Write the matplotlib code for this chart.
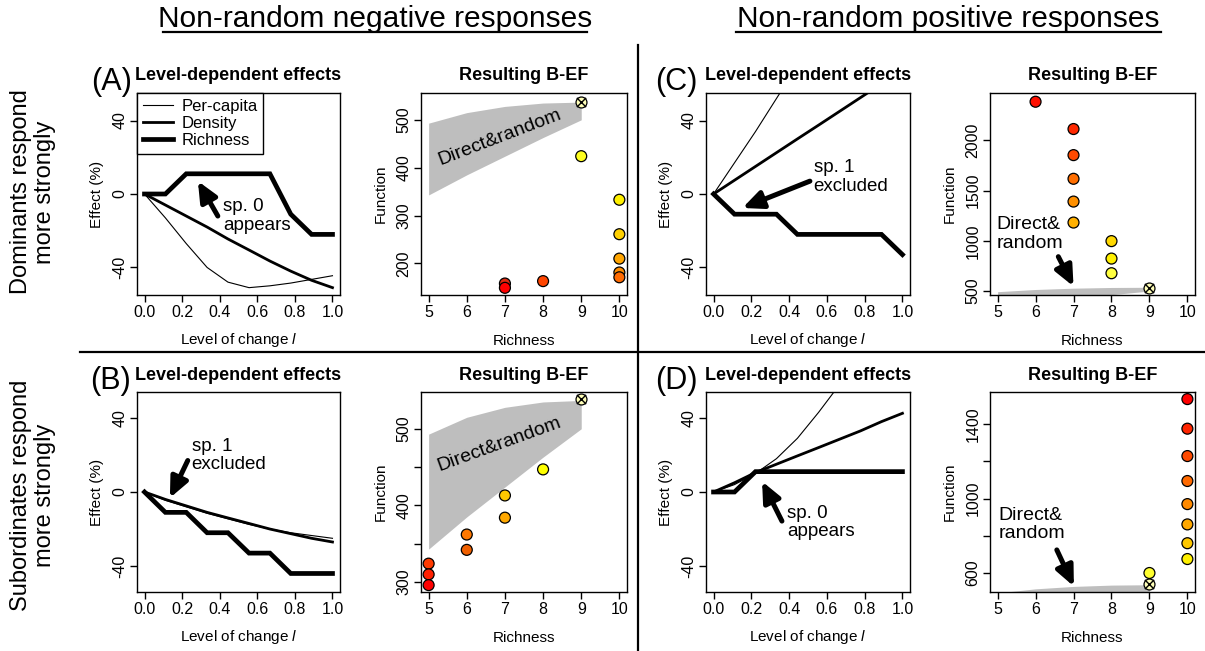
import matplotlib
matplotlib.use("Agg")
import matplotlib.pyplot as plt
from matplotlib.lines import Line2D

plt.rcParams['font.family'] = ['Liberation Sans', 'DejaVu Sans']
plt.rcParams['mathtext.fontset'] = 'custom'
plt.rcParams['mathtext.rm'] = 'Liberation Sans'
plt.rcParams['mathtext.it'] = 'Liberation Sans:italic'

# level of change (x of the line panels)
level = [0.0, 0.111, 0.222, 0.333, 0.444, 0.556, 0.667, 0.778, 0.889, 1.0]

# (A) dominants, negative
A_percap = [0, -13, -27, -40, -48, -51, -50, -48.5, -46.5, -44.5]
A_density = [0, -6, -12, -18, -24.5, -30.5, -36.5, -42, -47, -51]
A_richness = [0, 0, 11, 11, 11, 11, 11, -11, -22, -22]
# (B) subordinates, negative
B_percap = [0, -4.5, -8, -11.5, -14.5, -17.5, -20, -22, -23.5, -25]
B_density = [0, -4, -7.5, -11, -14, -17, -20, -22.5, -25, -27]
B_richness = [0, -11, -11, -22, -22, -33, -33, -44, -44, -44]
# (C) dominants, positive
C_percap = [0, 17, 34, 52, 70, 88, 106, 124, 142, 160]
C_density = [0, 7.5, 15, 22.5, 30, 37.5, 45, 52.5, 60, 67.5]
C_richness = [0, -11, -11, -11, -22, -22, -22, -22, -22, -33]
# (D) subordinates, positive
D_percap = [0, 4, 10, 18, 29, 43, 58, 75, 93, 112]
D_density = [0, 5, 10.5, 15, 19.5, 24, 28.5, 33, 38, 42.5]
D_richness = [0, 0, 11, 11, 11, 11, 11, 11, 11, 11]

# direct & random envelope (shared)
poly_rich = [5, 6, 7, 8, 9]
poly_upper = [493, 515, 528, 535, 537]
poly_lower = [343, 385, 424, 463, 500]

# resulting B-EF points
A_rich = [7, 7, 8, 9, 10, 10, 10, 10, 10]
A_func = [158, 149, 163, 424, 333, 261, 210, 181, 171]
A_cols = ['#E02A10', '#FF0000', '#FF4500', '#FFFF20', '#FFF000', '#FFD000',
          '#FFA500', '#FF8C00', '#FF6A00']
A_ref = (9, 538)

B_rich = [5, 5, 5, 6, 6, 7, 7, 8]
B_func = [324, 310, 296, 362, 342, 413, 384, 447]
B_cols = ['#FF3A00', '#FF2000', '#FF0000', '#FF7800', '#F06000', '#FFC800',
          '#FFA800', '#FFFF00']
B_ref = (9, 539)

C_rich = [6, 7, 7, 7, 7, 7, 8, 8, 8]
C_func = [2386, 2114, 1854, 1618, 1391, 1182, 997, 823, 677]
C_cols = ['#FF1000', '#FF2800', '#FF4A00', '#FF6E00', '#FF9000', '#FFB000',
          '#FFD800', '#FFF000', '#FFFF40']
C_ref = (9, 533)

D_rich = [10, 10, 10, 10, 10, 10, 10, 10, 9]
D_func = [1534, 1375, 1228, 1094, 970, 861, 760, 675, 600]
D_cols = ['#FF0000', '#FF2500', '#FF4A00', '#FF6A00', '#FF8A00', '#FFA800',
          '#FFC800', '#FFF000', '#FFFF30']
D_ref = (9, 540)

W, H = 1205, 651
fig = plt.figure(figsize=(W / 100, H / 100), dpi=100)


def make_ax(x0, x1, y0, y1):
    ax = fig.add_axes([x0 / W, 1 - y1 / H, (x1 - x0) / W, (y1 - y0) / H])
    for s in ax.spines.values():
        s.set_linewidth(1.0)
    ax.tick_params(direction='out', length=5, width=1, labelsize=11.5, pad=2)
    return ax


def line_panel(ax, pc, de, ri, ylim, title, letter, lx, ly):
    ax.plot(level, pc, color='black', lw=0.8, label='Per-capita')
    ax.plot(level, de, color='black', lw=2.0, label='Density')
    ax.plot(level, ri, color='black', lw=3.4, label='Richness', solid_joinstyle='miter')
    ax.set_xlim(-0.04, 1.04)
    ax.set_ylim(*ylim)
    ax.set_xticks([0.0, 0.2, 0.4, 0.6, 0.8, 1.0])
    ax.set_xticklabels(['0.0', '0.2', '0.4', '0.6', '0.8', '1.0'])
    ax.set_yticks([-40, 0, 40])
    ax.set_yticklabels(['-40', '0', '40'], rotation=90, va='center')
    ax.set_xlabel('Level of change $l$', fontsize=11, labelpad=8)
    ax.set_ylabel('Effect (%)', fontsize=11, labelpad=6)
    ax.set_title(title, fontsize=13, fontweight='bold', pad=9)
    fig.text(lx / W, 1 - ly / H, letter, fontsize=22, ha='center', va='center')


def scatter_panel(ax, rich, func, cols, ref, ylim, yticks, ylabels):
    ax.fill_between(poly_rich, poly_lower, poly_upper, color='#BEBEBE', lw=0)
    ax.scatter(rich, func, s=62, c=cols, edgecolors='black', linewidths=0.9, zorder=3)
    ax.scatter([ref[0]], [ref[1]], s=62, c='#FFFFB8', edgecolors='black',
               linewidths=0.9, zorder=3)
    ax.scatter([ref[0]], [ref[1]], s=45, marker='x', c='black', linewidths=1.0, zorder=4)
    ax.set_xlim(4.8, 10.2)
    ax.set_ylim(*ylim)
    ax.set_xticks([5, 6, 7, 8, 9, 10])
    ax.set_yticks(yticks)
    ax.set_yticklabels(ylabels, rotation=90, va='center')
    ax.set_xlabel('Richness', fontsize=11, labelpad=10)
    ax.set_ylabel('Function', fontsize=11, labelpad=6)
    ax.set_title('Resulting B-EF', fontsize=13, fontweight='bold', pad=9)


arrow = dict(arrowstyle='-|>,head_length=0.6,head_width=0.27', lw=3.6,
             color='black', mutation_scale=20, shrinkA=0, shrinkB=0)

# ---- (A)
axA = make_ax(137, 340, 93, 295)
line_panel(axA, A_percap, A_density, A_richness, (-55, 55),
           'Level-dependent effects', '(A)', 112, 82)
leg = axA.legend(loc='upper left', borderaxespad=0, fancybox=False, framealpha=1,
                 edgecolor='black', fontsize=12, handlelength=1.8, handletextpad=0.5,
                 labelspacing=0.12, borderpad=0.35)
leg.get_frame().set_linewidth(1.0)
axA.annotate('', xy=(0.284, 7), xytext=(0.39, -12), arrowprops=arrow)
axA.text(0.42, -12, 'sp. 0\nappears', fontsize=13.5, ha='left', va='center',
         linespacing=1.1)

axA2 = make_ax(421, 627, 93, 295)
scatter_panel(axA2, A_rich, A_func, A_cols, A_ref, (134, 556),
              [200, 300, 400, 500], ['200', '300', '400', '500'])
axA2.text(6.86, 464, 'Direct&random', fontsize=14, rotation=21, ha='center', va='center')

# ---- (B)
axB = make_ax(137, 340, 392, 592)
line_panel(axB, B_percap, B_density, B_richness, (-54, 54),
           'Level-dependent effects', '(B)', 111, 381)
axB.annotate('', xy=(0.135, -3.2), xytext=(0.23, 17), arrowprops=arrow)
axB.text(0.25, 19.6, 'sp. 1\nexcluded', fontsize=13.5, ha='left', va='center',
         linespacing=1.1)

axB2 = make_ax(421, 627, 392, 592)
scatter_panel(axB2, B_rich, B_func, B_cols, B_ref, (287, 548),
              [300, 350, 400, 450, 500], ['300', '', '400', '', '500'])
axB2.text(6.85, 480, 'Direct&random', fontsize=14, rotation=20, ha='center', va='center')

# ---- (C)
axC = make_ax(706, 910, 93, 295)
line_panel(axC, C_percap, C_density, C_richness, (-55, 55),
           'Level-dependent effects', '(C)', 676, 82)
axC.annotate('', xy=(0.153, -7.6), xytext=(0.51, 7), arrowprops=arrow)
axC.text(0.53, 9.2, 'sp. 1\nexcluded', fontsize=13.5, ha='left', va='center',
         linespacing=1.1)

axC2 = make_ax(990, 1195, 93, 295)
scatter_panel(axC2, C_rich, C_func, C_cols, C_ref, (460, 2473),
              [500, 1000, 1500, 2000], ['500', '1000', '1500', '2000'])
axC2.text(4.98, 1069, 'Direct&\nrandom', fontsize=14, ha='left', va='center',
          linespacing=1.1)
axC2.annotate('', xy=(7.0, 546), xytext=(6.6, 842), arrowprops=arrow)

# ---- (D)
axD = make_ax(706, 910, 392, 592)
line_panel(axD, D_percap, D_density, D_richness, (-54, 54),
           'Level-dependent effects', '(D)', 676, 381)
axD.annotate('', xy=(0.257, 5.7), xytext=(0.362, -15.7), arrowprops=arrow)
axD.text(0.388, -16.5, 'sp. 0\nappears', fontsize=13.5, ha='left', va='center',
         linespacing=1.1)

axD2 = make_ax(990, 1195, 392, 592)
scatter_panel(axD2, D_rich, D_func, D_cols, D_ref, (498, 1572),
              [600, 800, 1000, 1200, 1400], ['600', '', '1000', '', '1400'])
axD2.text(5.03, 861, 'Direct&\nrandom', fontsize=14, ha='left', va='center',
          linespacing=1.1)
axD2.annotate('', xy=(7.01, 528), xytext=(6.56, 724), arrowprops=arrow)

# ---- headers, row labels, dividers
fig.text(375 / W, 1 - 27 / H, 'Non-random negative responses', fontsize=21.5,
         ha='center', va='baseline')
fig.text(948 / W, 1 - 27 / H, 'Non-random positive responses', fontsize=21.5,
         ha='center', va='baseline')
fig.add_artist(Line2D([163 / W, 587 / W], [1 - 32 / H] * 2, color='black', lw=1.6))
fig.add_artist(Line2D([736 / W, 1161 / W], [1 - 32 / H] * 2, color='black', lw=1.6))

fig.text(33 / W, 1 - 192 / H, 'Dominants respond\nmore strongly', fontsize=17,
         rotation=90, ha='center', va='center', linespacing=1.1)
fig.text(33 / W, 1 - 495 / H, 'Subordinates respond\nmore strongly', fontsize=17,
         rotation=90, ha='center', va='center', linespacing=1.1)

fig.add_artist(Line2D([80 / W, 1.0], [1 - 352 / H] * 2, color='black', lw=1.6))
fig.add_artist(Line2D([638 / W, 638 / W], [1 - 45 / H, 0.0], color='black', lw=1.6))

fig.savefig('out.png', dpi=100)
